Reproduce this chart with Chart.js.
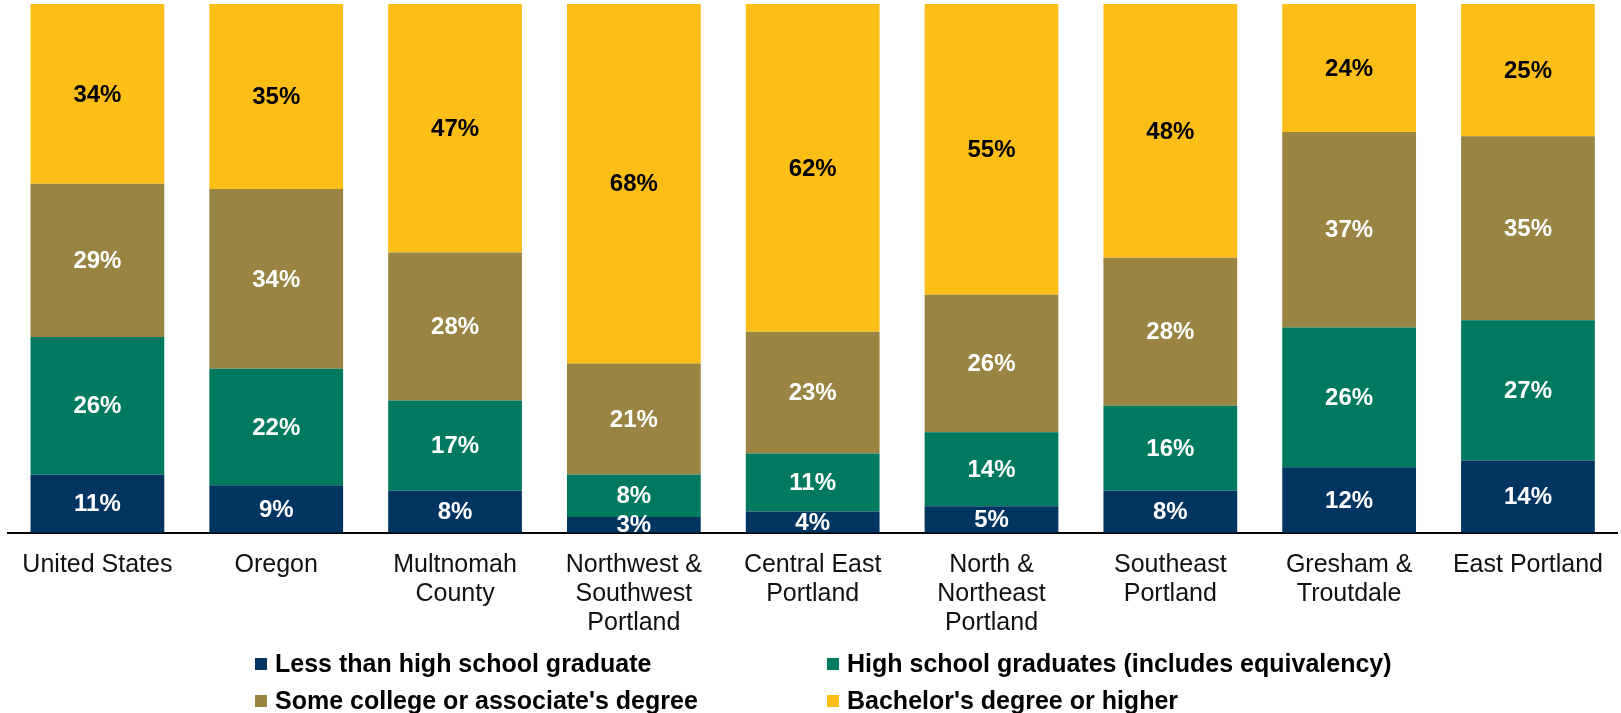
<!DOCTYPE html>
<html>
<head>
<meta charset="utf-8">
<script src="https://cdn.jsdelivr.net/npm/chart.js@4.4.1/dist/chart.umd.min.js"></script>
<style>
  body { margin: 0; background: #fff; }
  #wrap { width: 1621px; height: 713px; }
</style>
</head>
<body>
<div id="wrap"><canvas id="myChart"></canvas></div>
<script>
var areas = [
    'United States',
    'Oregon',
    ['Multnomah', 'County'],
    ['Northwest &', 'Southwest', 'Portland'],
    ['Central East', 'Portland'],
    ['North &', 'Northeast', 'Portland'],
    ['Southeast', 'Portland'],
    ['Gresham &', 'Troutdale'],
    'East Portland'
];

var lessThanHS = [11, 9, 8, 3, 4, 5, 8, 12.4, 13.6];
var hsGrad = [26, 22, 17, 8, 11, 14, 16, 26.4, 26.6];
var someCollege = [29, 34, 28, 21, 23, 26, 28, 37.0, 34.8];
var bachelors = [34, 35, 47, 68, 62, 55, 48, 24.2, 25.0];

var seriesNames = [
    'Less than high school graduate',
    'High school graduates (includes equivalency)',
    "Some college or associate's degree",
    "Bachelor's degree or higher"
];
var colors = ['#003562', '#007A5E', '#9A8442', '#FDBE18'];
var labelColors = ['#ffffff', '#ffffff', '#ffffff', '#000000'];

var FONT = "'Liberation Sans', Arial, sans-serif";

// percent labels centred in each segment
const segmentLabels = {
    id: 'segmentLabels',
    afterDatasetsDraw(chart) {
        const ctx = chart.ctx;
        const area = chart.chartArea;
        ctx.save();
        ctx.beginPath();
        ctx.rect(area.left, area.top, area.right - area.left, area.bottom - area.top);
        ctx.clip();
        ctx.font = 'bold 24px ' + FONT;
        ctx.textAlign = 'center';
        ctx.textBaseline = 'middle';
        chart.data.datasets.forEach((ds, i) => {
            const meta = chart.getDatasetMeta(i);
            ctx.fillStyle = labelColors[i];
            meta.data.forEach((bar, j) => {
                const p = bar.getProps(['x', 'y', 'base'], true);
                ctx.fillText(Math.round(ds.data[j]) + '%', p.x, (p.y + p.base) / 2 + 1);
            });
        });
        ctx.restore();
    }
};

// two-column legend under the axis labels
const gridLegend = {
    id: 'gridLegend',
    afterDraw(chart) {
        const ctx = chart.ctx;
        const colX = [255, 827];
        const rowY = [664, 701];
        ctx.save();
        ctx.font = 'bold 25px ' + FONT;
        ctx.textBaseline = 'middle';
        ctx.textAlign = 'left';
        chart.data.datasets.forEach((ds, i) => {
            const x = colX[i % 2];
            const y = rowY[Math.floor(i / 2)];
            ctx.fillStyle = ds.backgroundColor;
            ctx.fillRect(x, y - 6, 12, 12);
            ctx.fillStyle = '#000';
            ctx.fillText(ds.label, x + 20, y + 1);
        });
        ctx.restore();
    }
};

const data = {
    labels: areas,
    datasets: [
        { label: seriesNames[0], data: lessThanHS, backgroundColor: colors[0] },
        { label: seriesNames[1], data: hsGrad, backgroundColor: colors[1] },
        { label: seriesNames[2], data: someCollege, backgroundColor: colors[2] },
        { label: seriesNames[3], data: bachelors, backgroundColor: colors[3] }
    ]
};

const config = {
    type: 'bar',
    data: data,
    options: {
        responsive: true,
        maintainAspectRatio: false,
        animation: false,
        categoryPercentage: 1.0,
        barPercentage: 0.748,
        layout: { padding: { left: 8, right: 0, top: 4, bottom: 58 } },
        plugins: {
            legend: { display: false },
            tooltip: { enabled: false }
        },
        scales: {
            x: {
                stacked: true,
                z: 1,
                grid: { display: false, drawTicks: false },
                border: { display: true, color: '#000', width: 2 },
                ticks: {
                    color: '#111',
                    autoSkip: false,
                    maxRotation: 0,
                    padding: 18,
                    font: { family: FONT, size: 25, lineHeight: 1.15 }
                }
            },
            y: {
                stacked: true,
                display: false,
                min: 0,
                max: 100
            }
        }
    },
    plugins: [segmentLabels, gridLegend]
};

const myChart = new Chart(document.getElementById('myChart'), config);
</script>
</body>
</html>
